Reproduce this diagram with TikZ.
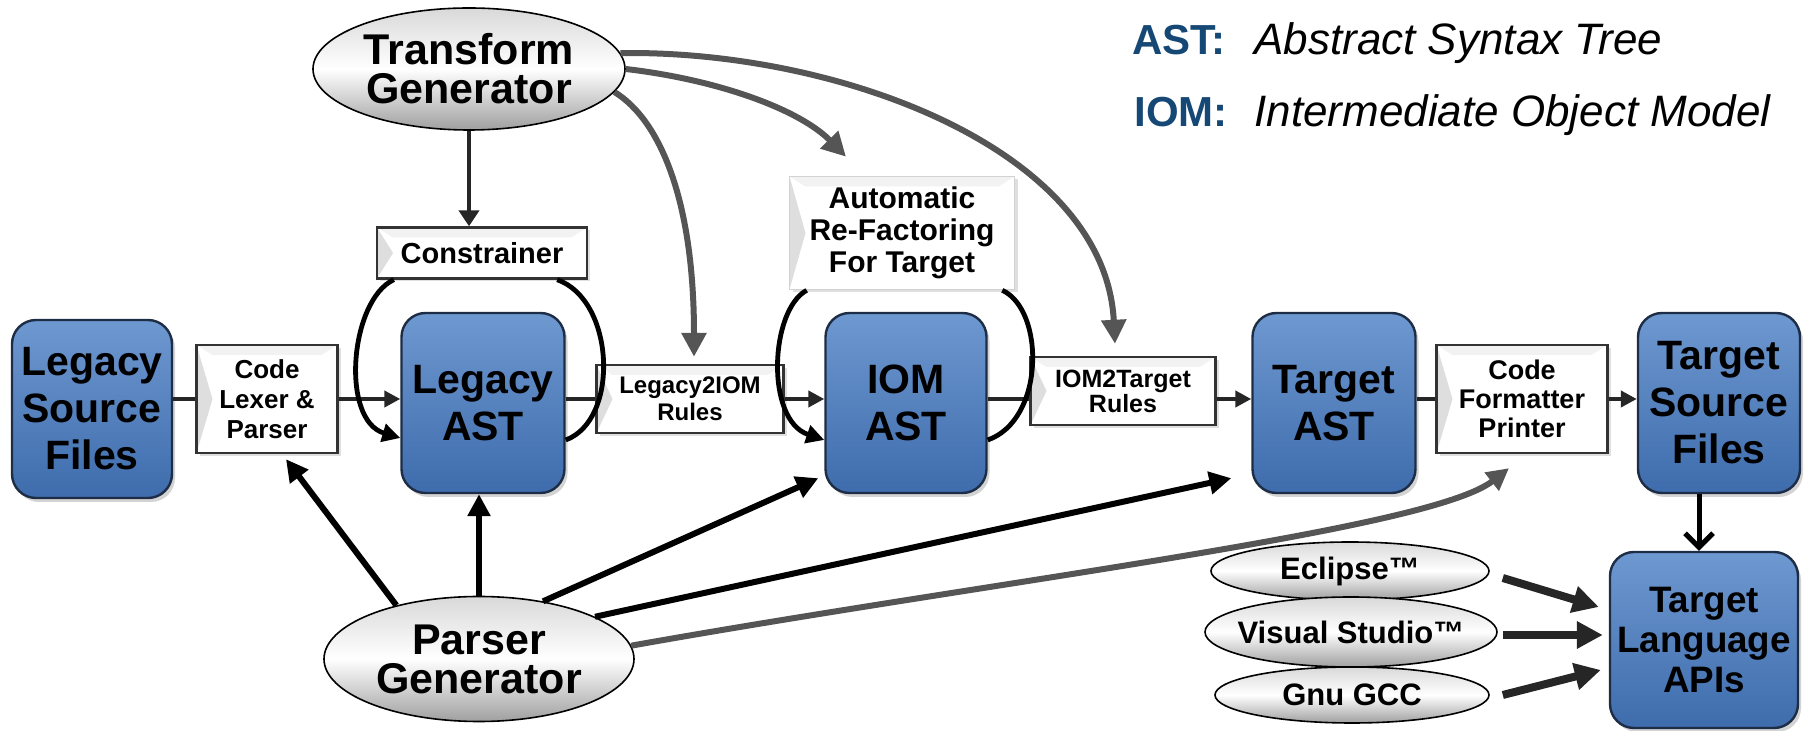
\documentclass[tikz,border=0pt]{standalone}
\usepackage{fontspec}
\setmainfont{Liberation Sans}
\usetikzlibrary{arrows.meta,shadows,calc,shapes.geometric}
\definecolor{bluetop}{RGB}{110,152,208}
\definecolor{bluebot}{RGB}{62,108,172}
\definecolor{blueborder}{RGB}{30,45,70}
\definecolor{tggray}{RGB}{85,85,85}
\definecolor{legblue}{RGB}{22,72,118}
\begin{document}
\begin{tikzpicture}[x=0.5pt,y=-0.5pt,
  bluebox/.style={rounded corners=12pt, draw=blueborder, line width=1.2pt,
    top color=bluetop, bottom color=bluebot,
    drop shadow={opacity=0.35,shadow xshift=1.5pt,shadow yshift=-2pt},
    font=\fontsize{20.5}{23.5}\selectfont\bfseries, align=center, inner sep=0pt},
  whitebox/.style={draw=black!80, line width=1.2pt, fill=white,
    path picture={\fill[black!13] (path picture bounding box.north west) -- ([xshift=8pt]path picture bounding box.west) -- (path picture bounding box.south west) -- cycle;
                  \fill[black!5] (path picture bounding box.north west) -- ([yshift=-5pt,xshift=8pt]path picture bounding box.north west) -- ([yshift=-5pt,xshift=-8pt]path picture bounding box.north east) -- (path picture bounding box.north east) -- cycle;},
    drop shadow={opacity=0.25,shadow xshift=1.5pt,shadow yshift=-1.5pt},
    align=center, inner sep=0pt},
  grayell/.style={ellipse, draw=black, line width=0.8pt, top color=gray!30, bottom color=gray!75, middle color=white,
    inner sep=0pt, align=center},
  flow/.style={draw=black!85, line width=2.4pt},
  flowarrow/.style={flow, -{Triangle[length=8pt,width=8pt]}},
  cycleline/.style={draw=black, line width=2.4pt},
  tgcurve/.style={draw=tggray, line width=3pt, -{Triangle[length=12pt,width=12pt]}},
  pgarrow/.style={draw=black, line width=3pt, -{Triangle[length=11pt,width=11pt]}},
  pgcurve/.style={draw=tggray, line width=3pt, -{Triangle[length=11pt,width=11pt]}},
  idearrow/.style={draw=black!85, line width=4pt, -{Triangle[length=13pt,width=13pt]}}
]
\useasboundingbox (0,0) rectangle (1812,731);

% legend
\node[anchor=base west, font=\fontsize{21}{21}\selectfont\bfseries, text=legblue, inner sep=0pt] (astk) at (1132,55) {AST:};
\node[anchor=base west, font=\fontsize{22}{22}\selectfont\itshape, inner sep=0pt] (astv) at (1254,55) {Abstract Syntax Tree};
\node[anchor=base west, font=\fontsize{21}{21}\selectfont\bfseries, text=legblue, inner sep=0pt] (iomk) at (1134,127) {IOM:};
\node[anchor=base west, font=\fontsize{22}{22}\selectfont\itshape, inner sep=0pt] (iomv) at (1254,127) {Intermediate Object Model};

% generators
\node[grayell, inner xsep=-6pt, minimum width=156pt, minimum height=61pt, font=\fontsize{21.5}{19.5}\selectfont\bfseries] (TG) at (469,69) {Transform\\Generator};
\node[grayell, inner xsep=-6pt, minimum width=155pt, minimum height=62.5pt, font=\fontsize{21.5}{19.5}\selectfont\bfseries] (PG) at (479,659) {Parser\\Generator};

% white boxes
\node[whitebox, minimum width=105pt, minimum height=25.5pt, font=\fontsize{14.5}{14.5}\selectfont\bfseries] (Constr) at (482,253) {Constrainer};
\node[whitebox, draw=gray!35, line width=0.8pt, minimum width=112.5pt, minimum height=56.5pt, font=\fontsize{15}{16}\selectfont\bfseries] (Auto) at (902,233) {Automatic\\Re-Factoring\\For Target};
\node[whitebox, minimum width=70.5pt, minimum height=54pt, font=\fontsize{13}{15}\selectfont\bfseries] (CLP) at (267,399) {Code\\Lexer \&\\Parser};
\node[whitebox, minimum width=93.5pt, minimum height=34pt, font=\fontsize{12}{13.5}\selectfont\bfseries] (L2I) at (690,399) {Legacy2IOM\\Rules};
\node[whitebox, minimum width=92.5pt, minimum height=34pt, font=\fontsize{12.5}{12.5}\selectfont\bfseries] (I2T) at (1123,391) {IOM2Target\\Rules};
\node[whitebox, minimum width=85.5pt, minimum height=54pt, font=\fontsize{13.5}{14.5}\selectfont\bfseries] (CFP) at (1522,399) {Code\\Formatter\\Printer};

% blue boxes
\node[bluebox, minimum width=80pt, minimum height=89pt] (LSF) at (92,409) {Legacy\\Source\\Files};
\node[bluebox, minimum width=81.5pt, minimum height=90pt] (LAST) at (483,403) {Legacy\\AST};
\node[bluebox, minimum width=80.5pt, minimum height=90pt] (IAST) at (906,403) {IOM\\AST};
\node[bluebox, minimum width=81.5pt, minimum height=90pt] (TAST) at (1334,403) {Target\\AST};
\node[bluebox, minimum width=81pt, minimum height=90pt] (TSF) at (1719,403) {Target\\Source\\Files};
\node[bluebox, minimum width=94pt, minimum height=88pt, font=\fontsize{18.4}{20}\selectfont\bfseries] (TLA) at (1704,640) {Target\\Language\\APIs};

% IDE ellipses
\node[grayell, inner xsep=-15pt, minimum width=139pt, minimum height=29pt, font=\fontsize{15.5}{15.5}\selectfont\bfseries] (Ecl) at (1350,571) {Eclipse™};
\node[grayell, inner xsep=-15pt, minimum width=137pt, minimum height=28pt, font=\fontsize{15.5}{15.5}\selectfont\bfseries] (GCC) at (1352,695) {Gnu GCC};
\node[grayell, inner xsep=-15pt, minimum width=146pt, minimum height=35pt, font=\fontsize{15.5}{15.5}\selectfont\bfseries] (VS) at (1351,632) {Visual Studio™};

% main flow
\draw[flow] (LSF.east |- CLP.west) -- (CLP.west);
\draw[flowarrow] (CLP.east) -- (CLP.east -| LAST.west);
\draw[flow] (LAST.east |- L2I.west) -- (L2I.west);
\draw[flowarrow] (L2I.east) -- (L2I.east -| IAST.west);
\draw[flow] (IAST.east |- L2I.west) -- (I2T.west |- L2I.west);
\draw[flowarrow] (I2T.east |- L2I.west) -- (TAST.west |- L2I.west);
\draw[flow] (TAST.east |- CFP.west) -- (CFP.west);
\draw[flowarrow] (CFP.east) -- (CFP.east -| TSF.west);

% loops
\draw[cycleline, -{Triangle[length=9pt,width=9pt]}] ($(Constr.south west)+(18,0)$) .. controls (350,300) and (340,420) .. ($(LAST.west)+(0,35)$);
\draw[cycleline] ($(LAST.east)+(0,37)$) .. controls (620,420) and (615,300) .. ($(Constr.south east)+(-31,0)$);
\draw[cycleline, -{Triangle[length=9pt,width=9pt]}] ($(Auto.south west)+(18,0)$) .. controls (770,310) and (765,420) .. ($(IAST.west)+(0,37)$);
\draw[cycleline] ($(IAST.east)+(0,37)$) .. controls (1045,420) and (1045,310) .. ($(Auto.south east)+(-13,0)$);

% transform generator arrows
\draw[draw=black!85, line width=2.2pt, -{Triangle[length=8pt,width=10pt]}] (TG.south) -- (TG.south |- Constr.north);
\draw[tgcurve] (TG.-9) .. controls (660,120) and (694,200) .. ($(L2I.north)+(4,-7)$);
\draw[tgcurve] (TG.0) .. controls (720,80) and (800,110) .. ($(Auto.north)+(-56,-19)$);
\draw[tgcurve] (TG.6) .. controls (840,50) and (1105,150) .. ($(I2T.north)+(-8,-12)$);

% parser generator arrows
\draw[pgarrow] (PG.147) -- ($(CLP.south)+(19,5)$);
\draw[pgarrow] (PG.north) -- (PG.north |- LAST.south);
\draw[pgarrow] (PG.42) -- ($(IAST.south west)+(-6,-16)$);
\draw[pgarrow] (PG.20) -- ($(TAST.south west)+(-20,-16)$);
\draw[pgcurve] (PG.5) .. controls (1000,580) and (1430,530) .. ($(CFP.south)+(-13,14)$);

% target side
\draw[draw=black, line width=2.5pt, -{Straight Barb[length=7pt,width=14pt]}] ($(TSF.south)+(-20,0)$) -- ($(TLA.north)+(-5,0)$);
\draw[idearrow] ($(Ecl.east)+(13,7)$) -- ($(TLA.west)+(-10,-33)$);
\draw[idearrow] ($(VS.east)+(5,3)$) -- ($(TLA.west)+(-6,-5)$);
\draw[idearrow] ($(GCC.east)+(13,0)$) -- ($(TLA.west)+(-8,30)$);
\end{tikzpicture}
\end{document}
